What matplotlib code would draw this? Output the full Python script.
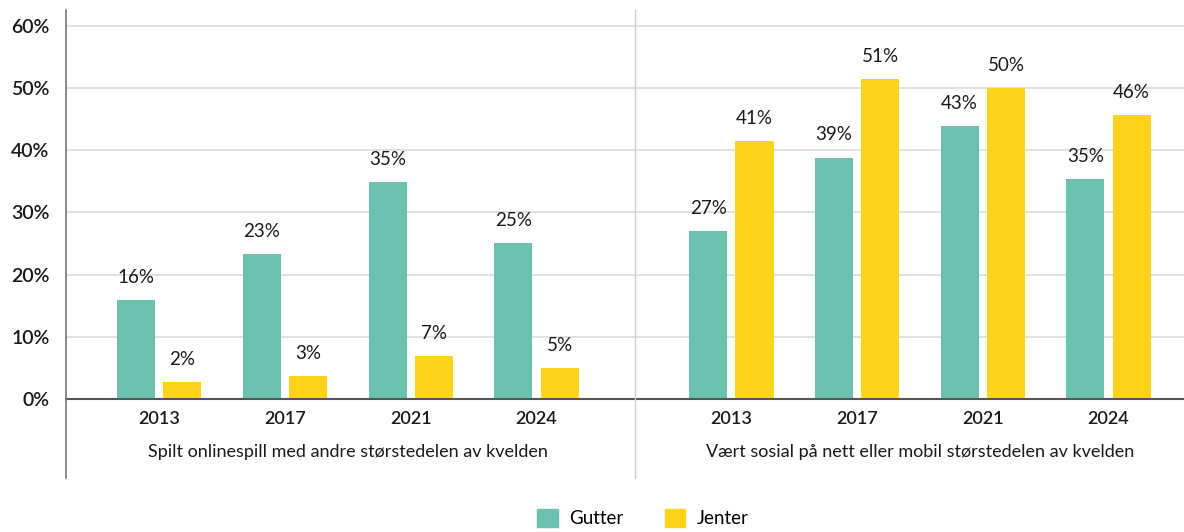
import matplotlib.pyplot as plt
from matplotlib.lines import Line2D
from matplotlib.patches import Patch
from matplotlib import transforms

plt.rcParams['font.family'] = ['Lato', 'DejaVu Sans']

aar = ['2013', '2017', '2021', '2024']
grupper = ['Spilt onlinespill med andre størstedelen av kvelden',
           'Vært sosial på nett eller mobil størstedelen av kvelden']

gutter_online = [15.9, 23.3, 34.9, 25.1]
jenter_online = [2.7, 3.7, 6.9, 5.0]
gutter_sosial = [27.0, 38.8, 43.9, 35.4]
jenter_sosial = [41.5, 51.5, 50.0, 45.7]

etiketter_gutter_online = ['16%', '23%', '35%', '25%']
etiketter_jenter_online = ['2%', '3%', '7%', '5%']
etiketter_gutter_sosial = ['27%', '39%', '43%', '35%']
etiketter_jenter_sosial = ['41%', '51%', '50%', '46%']

farge_gutter = '#6ac1ad'
farge_jenter = '#fdd31c'

fig = plt.figure(figsize=(11.84, 5.32), dpi=100)
ax = fig.add_axes([66 / 1184, 1 - 399 / 532, (1184 - 66) / 1184, (399 - 10) / 532])

pos_venstre = [0, 1, 2, 3]
pos_hoyre = [4.55, 5.55, 6.55, 7.55]
bredde = 0.303
forskyv = 0.184

serier = [
    (pos_venstre, gutter_online, jenter_online, etiketter_gutter_online, etiketter_jenter_online),
    (pos_hoyre, gutter_sosial, jenter_sosial, etiketter_gutter_sosial, etiketter_jenter_sosial),
]
for pos, g, j, eg, ej in serier:
    xg = [p - forskyv for p in pos]
    xj = [p + forskyv for p in pos]
    ax.bar(xg, g, width=bredde, color=farge_gutter, zorder=3)
    ax.bar(xj, j, width=bredde, color=farge_jenter, zorder=3)
    for x, v, t in zip(xg, g, eg):
        ax.text(x, v + 2.3, t, ha='center', va='bottom', fontsize=13.5, color='#1a1a1a')
    for x, v, t in zip(xj, j, ej):
        ax.text(x, v + 2.3, t, ha='center', va='bottom', fontsize=13.5, color='#1a1a1a')

ax.set_xlim(-0.742, 8.15)
ax.set_ylim(0, 62.57)
ax.set_yticks([0, 10, 20, 30, 40, 50, 60])
ax.set_yticklabels([f'{v}%' for v in [0, 10, 20, 30, 40, 50, 60]], fontsize=14,
                   fontweight='semibold', color='#1a1a1a')
ax.set_xticks(pos_venstre + pos_hoyre)
ax.set_xticklabels(aar + aar, fontsize=13, fontweight='semibold', color='#1a1a1a')
ax.tick_params(axis='both', length=0)
ax.tick_params(axis='y', pad=12)
ax.tick_params(axis='x', pad=9)

ax.grid(axis='y', color='#dcdcdc', linewidth=1.2, zorder=0)
for s in ['top', 'right', 'left']:
    ax.spines[s].set_visible(False)
ax.spines['bottom'].set_color('#555555')
ax.spines['bottom'].set_linewidth(1.5)
ax.spines['bottom'].set_zorder(4)

# venstre akse og skillelinje går ned forbi aksen
skille = 3.78
trans = transforms.blended_transform_factory(ax.transData, fig.transFigure)
fig.add_artist(Line2D([-0.742, -0.742], [1 - 478 / 532, 1 - 10 / 532], transform=trans,
                      color='#777777', linewidth=1.2))
fig.add_artist(Line2D([skille, skille], [1 - 478 / 532, 1 - 10 / 532], transform=trans,
                      color='#cccccc', linewidth=1.0))

ax.text(1.5, 1 - 452 / 532, grupper[0], transform=trans, ha='center', va='center',
        fontsize=13, color='#1a1a1a')
ax.text(6.05, 1 - 452 / 532, grupper[1], transform=trans, ha='center', va='center',
        fontsize=13, color='#1a1a1a')

handles = [Patch(color=farge_gutter, label='Gutter'), Patch(color=farge_jenter, label='Jenter')]
fig.legend(handles=handles, loc='center', bbox_to_anchor=(643 / 1184, 1 - 518 / 532), ncol=2,
           frameon=False, fontsize=13.5, handlelength=1.1, handleheight=1.1,
           columnspacing=2.2, handletextpad=0.6)

fig.savefig('out.png', dpi=100)
